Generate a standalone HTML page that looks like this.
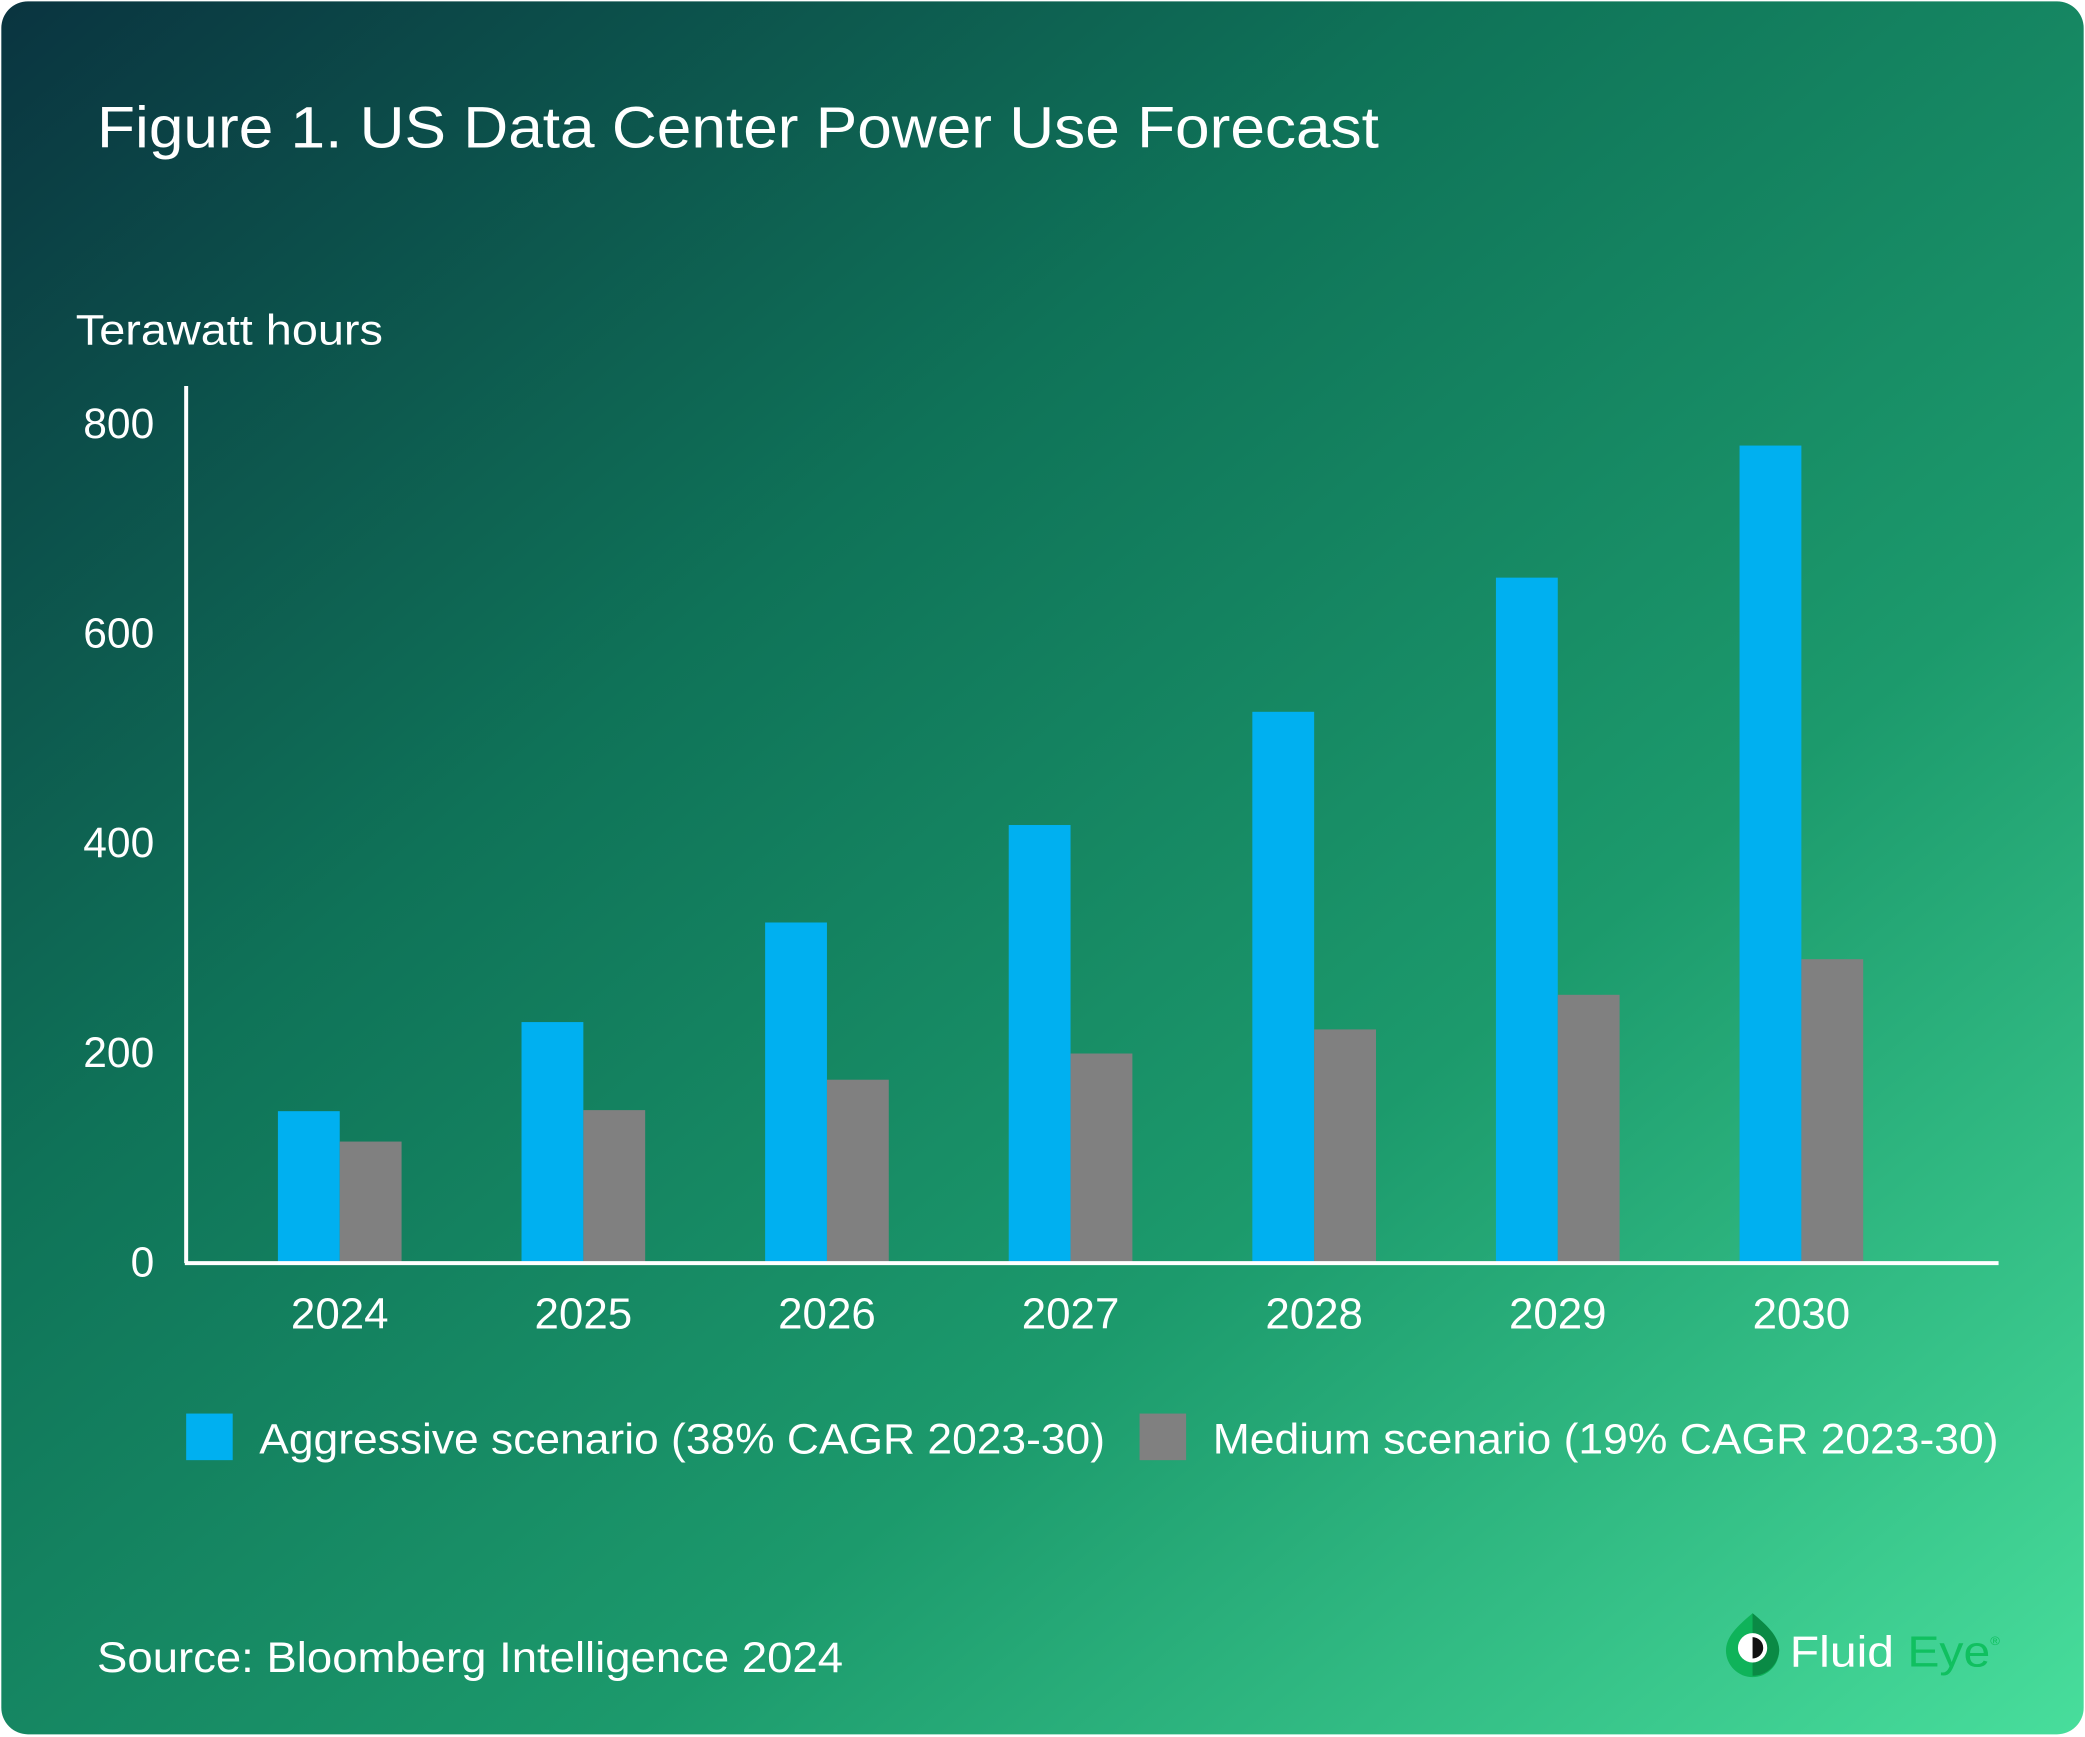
<!DOCTYPE html>
<html><head><meta charset="utf-8"><style>
html,body{margin:0;padding:0;background:#fff;width:2085px;height:1737px;overflow:hidden}
svg{display:block;font-family:"Liberation Sans",Arial,sans-serif}
</style></head><body>
<svg id="chart" width="2085" height="1737" viewBox="0 0 1568 1305" preserveAspectRatio="none">
<defs>
<linearGradient id="bg" x1="0" y1="0" x2="1" y2="1">
<stop offset="0" stop-color="#0a3440"/>
<stop offset="0.35" stop-color="#0f7358"/>
<stop offset="0.65" stop-color="#1c9a6c"/>
<stop offset="1" stop-color="#48de9c"/>
</linearGradient>
</defs>
<rect x="1" y="1" width="1566" height="1302" rx="20" fill="url(#bg)"/>
<text x="73" y="111" font-size="44" fill="#fff" textLength="964" lengthAdjust="spacingAndGlyphs">Figure 1. US Data Center Power Use Forecast</text>
<text x="57" y="259" font-size="32" fill="#fff" textLength="231" lengthAdjust="spacingAndGlyphs">Terawatt hours</text>
<g id="yticks"></g>
<g id="bars"></g>
<g id="xticks"></g>
<line x1="140" y1="290" x2="140" y2="949" stroke="#fff" stroke-width="3"/>
<line x1="139" y1="949" x2="1503" y2="949" stroke="#fff" stroke-width="3"/>
<g>
<rect x="140" y="1062" width="35" height="35" fill="#00b0f0"/>
<text x="195" y="1092" font-size="32" fill="#fff" textLength="636" lengthAdjust="spacingAndGlyphs">Aggressive scenario (38% CAGR 2023-30)</text>
<rect x="857" y="1062" width="35" height="35" fill="#808080"/>
<text x="912" y="1092" font-size="32" fill="#fff" textLength="591" lengthAdjust="spacingAndGlyphs">Medium scenario (19% CAGR 2023-30)</text>
</g>
<text x="73" y="1256" font-size="32" fill="#fff" textLength="561" lengthAdjust="spacingAndGlyphs">Source: Bloomberg Intelligence 2024</text>
<g>
<path d="M1318 1212 C1330 1222 1338 1230 1338 1240 A20 20 0 0 1 1298 1240 C1298 1230 1306 1222 1318 1212Z" fill="#0fb35a"/>
<path d="M1318 1212 C1330 1222 1338 1230 1338 1240 A20 20 0 0 1 1318 1259Z" fill="#0a8a45"/>
<circle cx="1318" cy="1238" r="11" fill="#fff"/>
<path d="M1318 1230 A8 8 0 0 1 1318 1246Z" fill="#111"/>
<text x="1346" y="1252" font-size="33" fill="#fff" textLength="158" lengthAdjust="spacingAndGlyphs">Fluid <tspan fill="#10c060">Eye</tspan><tspan font-size="9" dy="-16" fill="#10c060">®</tspan></text>
</g>
</svg>
<script>
const years = ["2024","2025","2026","2027","2028","2029","2030"];
const aggressive = [145, 230, 325, 418, 526, 654, 780];
const medium = [116, 146, 175, 200, 223, 256, 290];
const yTicks = [0, 200, 400, 600, 800];

const NS = "http://www.w3.org/2000/svg";
const y0 = 949, yScale = 0.7875;
function yPos(v){ return y0 - v * yScale; }
function xCenter(i){ return 255.5 + i * 183.2; }
const barW = 46.5;

const yt = document.getElementById('yticks');
yTicks.forEach(v => {
  const t = document.createElementNS(NS,'text');
  t.setAttribute('x', 116);
  t.setAttribute('y', yPos(v) + 10);
  t.setAttribute('text-anchor','end');
  t.setAttribute('font-size','32');
  t.setAttribute('fill','#fff');
  t.textContent = v;
  
  
  yt.appendChild(t);
});

const bars = document.getElementById('bars');
const xt = document.getElementById('xticks');
years.forEach((yr, i) => {
  const c = xCenter(i);
  const a = document.createElementNS(NS,'rect');
  a.setAttribute('x', c - barW);
  a.setAttribute('y', yPos(aggressive[i]));
  a.setAttribute('width', barW);
  a.setAttribute('height', aggressive[i] * yScale);
  a.setAttribute('fill', '#00b0f0');
  
  
  bars.appendChild(a);
  const m = document.createElementNS(NS,'rect');
  m.setAttribute('x', c);
  m.setAttribute('y', yPos(medium[i]));
  m.setAttribute('width', barW);
  m.setAttribute('height', medium[i] * yScale);
  m.setAttribute('fill', '#808080');
  
  
  bars.appendChild(m);
  const t = document.createElementNS(NS,'text');
  t.setAttribute('x', c);
  t.setAttribute('y', 998);
  t.setAttribute('text-anchor','middle');
  t.setAttribute('font-size','33');
  t.setAttribute('fill','#fff');
  t.textContent = yr;
  
  
  xt.appendChild(t);
});
</script>
</body></html>
